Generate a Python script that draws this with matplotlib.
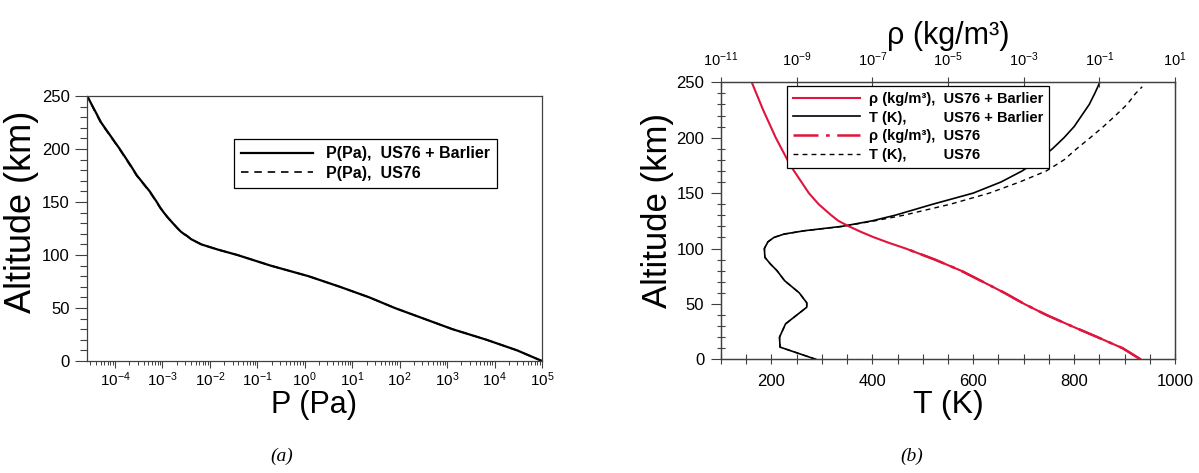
import numpy as np
import matplotlib
matplotlib.use('Agg')
import matplotlib.pyplot as plt
from matplotlib.ticker import MultipleLocator, LogLocator, NullLocator, NullFormatter

plt.rcParams['font.family'] = ['Liberation Sans', 'DejaVu Sans']
plt.rcParams['mathtext.fontset'] = 'custom'
plt.rcParams['mathtext.rm'] = 'Liberation Sans'
plt.rcParams['mathtext.it'] = 'Liberation Sans:italic'
plt.rcParams['mathtext.bf'] = 'Liberation Sans:bold'

# ---- data ----
# (a) pressure profile
alt_p = [0, 10, 20, 30, 40, 50, 60, 70, 80, 90, 100, 105, 110, 115, 118, 120,
         122, 125, 130, 135, 140, 145, 150, 160, 175, 185, 200, 225, 240, 250]
p_barlier = [1.0e5, 3.0e4, 6.8e3, 1.3e3, 3.2e2, 79, 23, 5.5, 1.2, 0.19, 0.038,
             1.5e-2, 6.6e-3, 4.0e-3, 3.3e-3, 2.8e-3, 2.45e-3, 2.1e-3, 1.66e-3,
             1.32e-3, 1.07e-3, 8.9e-4, 7.6e-4, 5.4e-4, 2.9e-4, 2.1e-4, 1.26e-4,
             5.1e-5, 3.4e-5, 2.6e-5]
p_us76 = [1.0e5, 3.0e4, 6.8e3, 1.3e3, 3.2e2, 79, 23, 5.5, 1.2, 0.19, 0.038,
          1.5e-2, 6.6e-3, 4.0e-3, 3.3e-3, 2.8e-3, 2.45e-3, 2.1e-3, 1.66e-3,
          1.31e-3, 1.06e-3, 8.8e-4, 7.5e-4, 5.3e-4, 2.85e-4, 2.05e-4, 1.24e-4,
          5.0e-5, 3.35e-5, 2.6e-5]

# (b) density profile
alt_rho = [0, 10, 20, 30, 40, 50, 60, 70, 80, 90, 100, 105, 110, 115, 120, 125,
           130, 140, 150, 175, 200, 225, 250]
rho_barlier = [1.225, 0.414, 8.9e-2, 1.84e-2, 4.0e-3, 1.03e-3, 3.1e-4, 8.3e-5,
               2.2e-5, 4.5e-6, 7.6e-7, 2.8e-7, 1.12e-7, 5.0e-8, 2.4e-8, 1.26e-8,
               8.2e-9, 3.8e-9, 2.1e-9, 6.8e-10, 2.8e-10, 1.3e-10, 6.5e-11]
alt_rho_us76 = [0, 10, 20, 30, 40, 50, 60, 70, 80, 90, 100]
rho_us76 = [1.225, 0.414, 8.9e-2, 1.84e-2, 4.0e-3, 1.03e-3, 3.1e-4, 8.3e-5,
            2.2e-5, 4.5e-6, 7.6e-7]

# (b) temperature profile
alt_t = [0, 11, 20, 32, 47, 51, 60, 71, 80, 86, 92, 100, 106, 110, 113, 116,
         120, 125, 130, 140, 150, 160, 170, 180, 190, 200, 210, 220, 230, 240, 250]
t_barlier = [288, 217, 216, 228, 270, 270, 255, 226, 211, 198, 187, 186, 193,
             205, 225, 265, 340, 400, 445, 520, 600, 655, 697, 730, 757, 780,
             800, 815, 830, 841, 851]
alt_t_us76 = [0, 11, 20, 32, 47, 51, 60, 71, 80, 86, 92, 100, 106, 110, 113, 116,
              120, 125, 130, 140, 150, 160, 170, 180, 190, 200, 210, 220, 230, 240, 246]
t_us76 = [288, 217, 216, 228, 270, 270, 255, 226, 211, 198, 187, 186, 193,
          205, 225, 265, 342, 405, 462, 555, 632, 692, 745, 780, 805, 832,
          858, 882, 905, 922, 935]

red = '#e0143c'
spine_c = '#404040'

W, H = 1199, 473
fig = plt.figure(figsize=(W / 100, H / 100), dpi=100)

def fx(x):
    return x / W

def fy(y):
    return 1 - y / H

# ---------------- panel (a) ----------------
ax_a = fig.add_axes([fx(87), fy(361), 455 / W, 265 / H])
ax_a.plot(p_barlier, alt_p, color='black', lw=1.6, label='P(Pa),  US76 + Barlier')
ax_a.plot(p_us76, alt_p, color='black', lw=1.2, ls=(0, (4.5, 3.5)), label='P(Pa),  US76')
ax_a.set_xscale('log')
ax_a.set_xlim(10 ** -4.59, 1e5)
ax_a.set_ylim(0, 250)
ax_a.xaxis.set_major_locator(LogLocator(base=10, numticks=20))
ax_a.xaxis.set_minor_locator(LogLocator(base=10, subs=np.arange(2, 10), numticks=20))
ax_a.xaxis.set_minor_formatter(NullFormatter())
ax_a.yaxis.set_major_locator(MultipleLocator(50))
ax_a.yaxis.set_minor_locator(MultipleLocator(10))
ax_a.tick_params(axis='y', which='major', direction='out', length=8.5, width=0.8,
                 pad=4, labelsize=12, color=spine_c)
ax_a.tick_params(axis='y', which='minor', direction='out', length=5, width=0.8, color=spine_c)
ax_a.tick_params(axis='x', which='major', direction='out', length=5, width=0.8,
                 pad=2, labelsize=11, color=spine_c)
ax_a.tick_params(axis='x', which='minor', direction='out', length=3, width=0.7, color=spine_c)
for s in ax_a.spines.values():
    s.set_color(spine_c)
    s.set_linewidth(0.9)
leg_a = ax_a.legend(loc='upper left', bbox_to_anchor=(fx(234), fy(139)),
                    bbox_transform=fig.transFigure, borderaxespad=0,
                    prop={'weight': 'bold', 'size': 11.5}, handlelength=4.5,
                    fancybox=False, framealpha=1, edgecolor='black',
                    borderpad=0.45, labelspacing=0.3, handletextpad=0.8)
leg_a.get_frame().set_linewidth(0.9)

fig.text(fx(22), fy(212), 'Altitude (km)', rotation=90, ha='center', va='center', fontsize=26)
fig.text(fx(314), fy(405), 'P (Pa)', ha='center', va='center', fontsize=22)
fig.text(fx(282), fy(456), '(a)', ha='center', va='center', fontsize=14,
         family='Liberation Serif', style='italic')

# ---------------- panel (b) ----------------
ax_b = fig.add_axes([fx(721), fy(359.3), 454 / W, 277 / H])
l_t1, = ax_b.plot(t_barlier, alt_t, color='black', lw=1.2)
l_t2, = ax_b.plot(t_us76, alt_t_us76, color='black', lw=1.0, ls=(0, (3.5, 3)))
ax_b.set_xlim(100, 1000)
ax_b.set_ylim(0, 250)
ax_b.xaxis.set_major_locator(MultipleLocator(200))
ax_b.xaxis.set_minor_locator(MultipleLocator(50))
ax_b.yaxis.set_major_locator(MultipleLocator(50))
ax_b.yaxis.set_minor_locator(MultipleLocator(10))
ax_b.tick_params(axis='y', which='major', direction='out', length=7, width=0.8,
                 pad=5, labelsize=12, color=spine_c)
ax_b.tick_params(axis='y', which='minor', direction='inout', length=6, width=0.8, color=spine_c)
ax_b.tick_params(axis='x', which='major', direction='inout', length=7, width=0.8,
                 pad=7, labelsize=12, color=spine_c)
ax_b.tick_params(axis='x', which='minor', direction='inout', length=7, width=0.8, color=spine_c)

ax_r = ax_b.twiny()
l_r1, = ax_r.plot(rho_barlier, alt_rho, color=red, lw=1.5)
l_r2, = ax_r.plot(rho_us76, alt_rho_us76, color=red, lw=1.8, ls=(0, (10, 3, 1.5, 3)))
ax_r.set_xscale('log')
ax_r.set_xlim(1e-11, 1e1)
ax_r.set_xticks([1e-11, 1e-9, 1e-7, 1e-5, 1e-3, 1e-1, 1e1])
ax_r.xaxis.set_minor_locator(NullLocator())
ax_r.tick_params(axis='x', which='major', direction='inout', length=7, width=0.8,
                 pad=6, labelsize=10.5, color=spine_c)
for ax in (ax_b, ax_r):
    for s in ax.spines.values():
        s.set_color(spine_c)
        s.set_linewidth(0.9)

leg_b = ax_r.legend([l_r1, l_t1, l_r2, l_t2],
                    ['ρ (kg/m³),  US76 + Barlier',
                     'T (K),         US76 + Barlier',
                     'ρ (kg/m³),  US76',
                     'T (K),         US76'],
                    loc='upper left', bbox_to_anchor=(fx(787), fy(86)),
                    bbox_transform=fig.transFigure, borderaxespad=0,
                    prop={'weight': 'bold', 'size': 10.5}, handlelength=4.6,
                    fancybox=False, framealpha=1, edgecolor='black',
                    borderpad=0.4, labelspacing=0.32, handletextpad=0.6)
leg_b.get_frame().set_linewidth(0.9)

fig.text(fx(658), fy(210), 'Altitude (km)', rotation=90, ha='center', va='center', fontsize=25)
fig.text(fx(948), fy(405), 'T (K)', ha='center', va='center', fontsize=23)
fig.text(fx(948), fy(36), 'ρ (kg/m³)', ha='center', va='center', fontsize=22)
fig.text(fx(912), fy(456), '(b)', ha='center', va='center', fontsize=14,
         family='Liberation Serif', style='italic')

fig.savefig('out.png', dpi=100, facecolor='white')
